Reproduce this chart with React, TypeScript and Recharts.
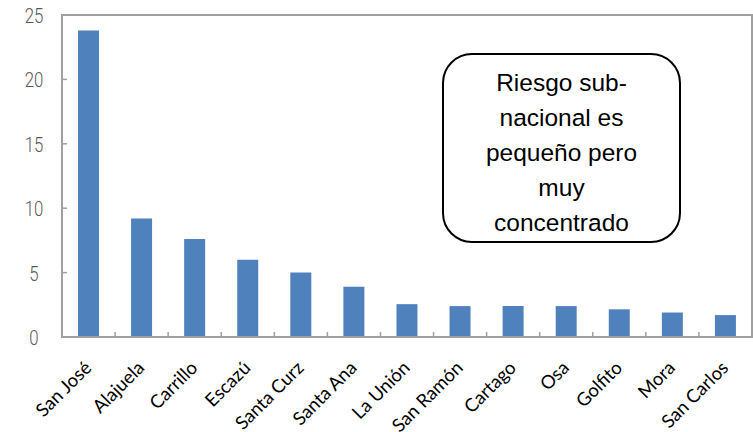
import React from 'react';
import { BarChart, Bar, XAxis, YAxis } from 'recharts';

const municipios = [
  'San José', 'Alajuela', 'Carrillo', 'Escazú', 'Santa Curz', 'Santa Ana', 'La Unión',
  'San Ramón', 'Cartago', 'Osa', 'Golfito', 'Mora', 'San Carlos',
];
const valores = [23.8, 9.2, 7.6, 6.0, 5.0, 3.9, 2.55, 2.4, 2.4, 2.4, 2.15, 1.9, 1.7];
const yTicks = [0, 5, 10, 15, 20, 25];
const notaLineas = ['Riesgo sub-', 'nacional es', 'pequeño pero', 'muy', 'concentrado'];

const data = municipios.map((m, i) => ({ name: m, value: valores[i] }));

const W = 753;
const H = 432;
const plotLeft = 62;
const plotRight = 752;
const plotTop = 15;
const plotBottom = 337;
const band = (plotRight - plotLeft) / municipios.length;

const XTick = (props: any) => {
  const { x, y, payload, index } = props;
  return (
    <g>
      {index < municipios.length - 1 && (
        <line x1={x + band / 2} x2={x + band / 2} y1={y} y2={y - 5} stroke="#a0a0a0" strokeWidth={1.5} />
      )}
      <text
        transform={`translate(${x + 4},${y + 32}) rotate(-45)`}
        textAnchor="end"
        fontFamily="Lato"
        fontSize={18.5}
        fill="#000"
      >
        {payload.value}
      </text>
    </g>
  );
};

const YTick = (props: any) => {
  const { x, y, payload } = props;
  return (
    <g>
      {payload.value !== 0 && payload.value !== 25 && (
        <line x1={x} x2={x + 5} y1={y} y2={y} stroke="#a0a0a0" strokeWidth={1.5} />
      )}
      <text
        transform={`translate(34,${y + 8}) scale(0.8,1)`}
        textAnchor="middle"
        fontFamily="Roboto"
        fontWeight={300}
        fontSize={21}
        fill="#595959"
      >
        {payload.value}
      </text>
    </g>
  );
};

export default function App() {
  return (
    <div style={{ position: 'absolute', left: 0, top: 0, width: W, height: H, background: '#fff' }}>
      <BarChart width={W} height={H} data={data} margin={{ top: plotTop, right: W - plotRight, bottom: 0, left: 22 }}>
        <XAxis
          dataKey="name"
          interval={0}
          height={H - plotBottom}
          tickSize={0}
          tickMargin={0}
          tick={<XTick />}
          axisLine={{ stroke: '#a0a0a0', strokeWidth: 2 }}
          tickLine={false}
        />
        <YAxis
          domain={[0, 25]}
          ticks={yTicks}
          width={plotLeft - 22}
          tickSize={0}
          tickMargin={0}
          tick={<YTick />}
          tickLine={false}
          axisLine={{ stroke: '#a0a0a0', strokeWidth: 2 }}
        />
        <Bar dataKey="value" fill="#4f81bd" barSize={21} isAnimationActive={false} />
      </BarChart>
      {/* marco del área de trazado */}
      <div
        style={{
          position: 'absolute',
          left: plotLeft - 1,
          top: plotTop - 1,
          width: plotRight - plotLeft + 2,
          height: plotBottom - plotTop + 2,
          boxSizing: 'border-box',
          border: '2px solid #a0a0a0',
          pointerEvents: 'none',
        }}
      />
      <div
        style={{
          position: 'absolute',
          left: 442,
          top: 53,
          width: 239,
          height: 190,
          boxSizing: 'border-box',
          border: '2.5px solid #000',
          borderRadius: 30,
          background: '#fff',
        }}
      />
      <div
        style={{
          position: 'absolute',
          left: 442,
          top: 65,
          width: 239,
          textAlign: 'center',
          fontFamily: '"Liberation Sans", Arial, sans-serif',
          fontSize: 24.5,
          lineHeight: '35px',
          color: '#000',
        }}
      >
        {notaLineas.map((l) => (
          <div key={l}>{l}</div>
        ))}
      </div>
    </div>
  );
}
